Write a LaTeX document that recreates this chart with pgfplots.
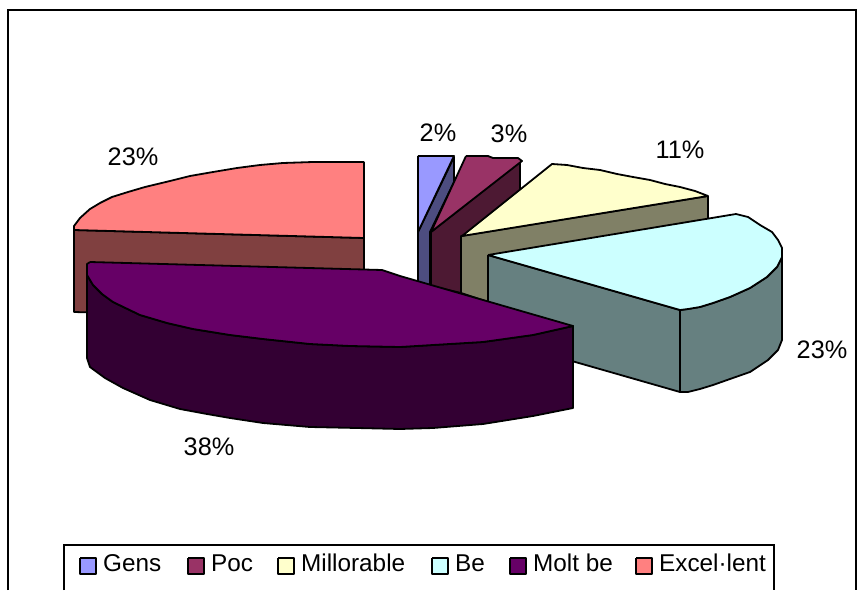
\documentclass[border=0pt]{standalone}
\usepackage{fontspec}
\setmainfont{Liberation Sans}
\usepackage{pgfplots}
\pgfplotsset{compat=1.18}
\definecolor{cA}{HTML}{9999FF}\definecolor{cAs}{HTML}{4D4D80}
\definecolor{cB}{HTML}{993366}\definecolor{cBs}{HTML}{4D1933}
\definecolor{cC}{HTML}{FFFFCC}\definecolor{cCs}{HTML}{808066}
\definecolor{cD}{HTML}{CCFFFF}\definecolor{cDs}{HTML}{668080}
\definecolor{cE}{HTML}{660066}\definecolor{cEs}{HTML}{330033}
\definecolor{cF}{HTML}{FF8080}\definecolor{cFs}{HTML}{804040}
\pgfplotsset{face/.style={draw=black,fill=#1,line width=1.8pt,line join=round,mark=none}}
\newcommand{\lab}[3]{\node[anchor=base,inner sep=0pt,font=\fontsize{25.3}{28}\selectfont] at (axis cs:#1,#2) {#3};}
\newcommand{\leg}[2]{\node[anchor=base west,inner sep=0pt,font=\fontsize{24.3}{28}\selectfont] at (axis cs:#1,571.5) {#2};}
\begin{document}
\begin{tikzpicture}
\begin{axis}[hide axis,scale only axis,width=864pt,height=590pt,
  xmin=0,xmax=864,ymin=0,ymax=590,y dir=reverse,clip=false]
% page extent
\addplot[draw=white,line width=0pt,mark=none] coordinates {(0,0)(864,0)(864,590)(0,590)(0,0)};
% chart frame
\addplot[draw=black,line width=1.5pt,mark=none] coordinates {(8,590)(8,10)(856,10)(856,590)};
% Gens
\addplot[face=cAs] coordinates {(454,157)(454,182)(430,232)(430,286)(418,282)(418,232)(454,157)};
\addplot[face=cA] coordinates {(418,156)(454,156)(418,232)(418,156)};
% Poc
\addplot[face=cBs] coordinates {(521,161)(520,161)(520,192)(461,240)(461,293)(431,286)(431,232)(521,161)};
\addplot[face=cB] coordinates {(466,156)(488,156)(493,158)(518,158)(522,161)(431,232)(466,156)};
% Millorable
\addplot[face=cCs] coordinates {(708,196)(708,230)(488,270)(488,302)(461,293)(461,236)(708,196)};
\addplot[face=cC] coordinates {(462,236)(552,164)(567,165)(583,168)(600,170)(617,174)(633,177)(650,180)(665,184)(680,187)(695,191)(708,196)(462,236)};
% Be
\addplot[face=cDs] coordinates {(680,310)(688,309)(700,307)(713,303)(730,297)(750,288)(767,277)(777,267)(782,257)(782,340)(778,350)(768,360)(750,372)(730,379)(713,385)(700,389)(688,392)(680,392)(680,310)};
\addplot[face=cDs] coordinates {(488,255)(680,310)(680,392)(488,337)(488,255)};
\addplot[face=cD] coordinates {(488,255)(736,214)(748,217)(760,225)(772,232)(778,240)(782,248)(782,257)(777,267)(767,277)(750,288)(730,297)(713,303)(700,307)(688,309)(680,310)(488,255)};
% Excel-lent
\addplot[face=cFs] coordinates {(74,230)(364,238)(364,320)(74,312)(74,230)};
\addplot[face=cF] coordinates {(364,162)(364,238)(74,230)(74,226)(80,218)(90,209)(100,203)(112,197)(128,192)(145,187)(170,181)(190,176)(213,172)(237,168)(260,165)(283,163)(313,162)(364,162)};
% Molt be
\addplot[face=cEs] coordinates {(87,275)(93,285)(102,294)(113,302)(140,315)(167,323)(193,329)(230,335)(263,339)(310,344)(350,346)(400,347)(433,345)(483,342)(533,335)(573,326)(573,408)(533,416)(483,424)(433,428)(400,429)(357,428)(310,427)(263,423)(230,418)(207,414)(180,409)(150,400)(123,388)(105,378)(90,367)(87,358)(87,275)};
\addplot[face=cE] coordinates {(90,262)(382,270)(400,276)(573,326)(533,335)(483,342)(433,345)(400,347)(350,346)(310,344)(263,339)(230,335)(193,329)(167,323)(140,315)(113,302)(102,294)(93,285)(87,275)(87,264)(90,262)};
% percent labels
\lab{438}{142}{2\%}
\lab{509}{143}{3\%}
\lab{680}{159}{11\%}
\lab{822}{358}{23\%}
\lab{209}{455}{38\%}
\lab{133}{166}{23\%}
% legend
\addplot[draw=black,line width=1.2pt,fill=white,mark=none] coordinates {(64,590)(64,545)(774,545)(774,590)};
\addplot[face=cA,line width=1.5pt] coordinates {(80,558)(96,558)(96,574)(80,574)(80,558)};
\addplot[face=cB,line width=1.5pt] coordinates {(188,558)(204,558)(204,574)(188,574)(188,558)};
\addplot[face=cC,line width=1.5pt] coordinates {(278,558)(294,558)(294,574)(278,574)(278,558)};
\addplot[face=cD,line width=1.5pt] coordinates {(432,558)(448,558)(448,574)(432,574)(432,558)};
\addplot[face=cE,line width=1.5pt] coordinates {(510,558)(526,558)(526,574)(510,574)(510,558)};
\addplot[face=cF,line width=1.5pt] coordinates {(636,558)(652,558)(652,574)(636,574)(636,558)};
\leg{103}{Gens}
\leg{211}{Poc}
\leg{301}{Millorable}
\leg{455}{Be}
\leg{533}{Molt be}
\leg{659}{Excel·lent}
\end{axis}
\end{tikzpicture}
\end{document}
